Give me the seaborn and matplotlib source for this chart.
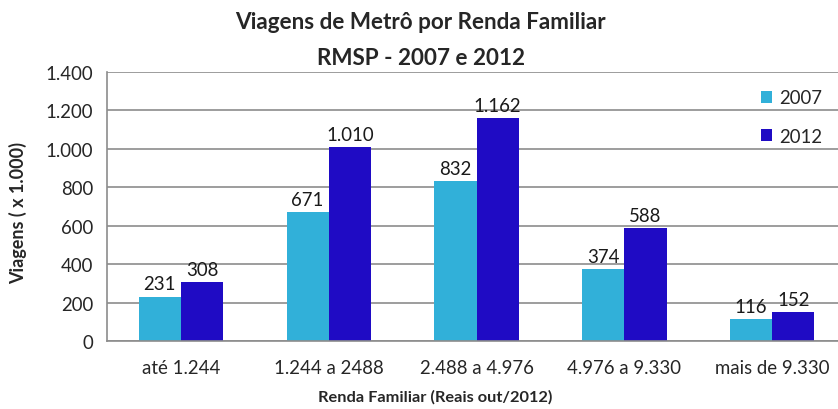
import pandas as pd
import matplotlib
matplotlib.use("Agg")
import matplotlib.pyplot as plt
from matplotlib.ticker import FuncFormatter, MultipleLocator, FixedLocator
import seaborn as sns

faixas = ['até 1.244', '1.244 a 2488', '2.488 a 4.976', '4.976 a 9.330', 'mais de 9.330']
viagens_2007 = [231, 671, 832, 374, 116]
viagens_2012 = [308, 1010, 1162, 588, 152]
anos = ['2007', '2012']
cores = ['#31B0D9', '#1F0BC4']


def milhar(v):
    return f"{int(round(v)):,}".replace(",", ".")


df = pd.DataFrame({
    'faixa': faixas * 2,
    'ano': [anos[0]] * len(faixas) + [anos[1]] * len(faixas),
    'viagens': viagens_2007 + viagens_2012,
})

sns.set_style("white")
plt.rcParams['font.family'] = ['Lato', 'DejaVu Sans']

fig = plt.figure(figsize=(8.38, 4.10), dpi=100)
ax = fig.add_axes([0.1277, 0.1659, 0.882, 0.656])

sns.barplot(data=df, x='faixa', y='viagens', hue='ano', palette=cores,
            width=0.57, saturation=1, linewidth=0, ax=ax, legend=True)

for cont in ax.containers:
    ax.bar_label(cont, labels=[milhar(b.get_height()) for b in cont],
                 padding=3, fontsize=13.4, color='#1a1a1a')

ax.set_ylim(0, 1400)
ax.set_xlim(-0.5, len(faixas) - 0.5)
ax.yaxis.set_major_locator(MultipleLocator(200))
ax.yaxis.set_major_formatter(FuncFormatter(lambda v, p: milhar(v)))
ax.grid(axis='y', color='#8c8c8c', linewidth=1.2)
ax.set_axisbelow(True)

for side in ['top', 'right']:
    ax.spines[side].set_visible(False)
for side in ['left', 'bottom']:
    ax.spines[side].set_color('#8c8c8c')
    ax.spines[side].set_linewidth(1.2)

ax.tick_params(axis='y', length=5, color='#8c8c8c', width=1.2, labelsize=13.4, pad=5)
ax.tick_params(axis='x', length=0, labelsize=13.4, pad=13)
ax.xaxis.set_minor_locator(FixedLocator([i - 0.5 for i in range(len(faixas) + 1)]))
ax.tick_params(axis='x', which='minor', length=6, color='#8c8c8c', width=1.2)

ax.set_xlabel('')
ax.set_ylabel('')
fig.text(0.519, 0.030, 'Renda Familiar (Reais out/2012)', ha='center', va='center',
         fontsize=11.8, fontweight='bold')
fig.text(0.022, 0.48, 'Viagens ( x 1.000)', ha='center', va='center', rotation=90,
         fontsize=13, fontweight='bold')
fig.text(0.502, 0.944, 'Viagens de Metrô por Renda Familiar',
         ha='center', va='center', fontsize=16.2, fontweight='bold')
fig.text(0.502, 0.858, 'RMSP - 2007 e 2012',
         ha='center', va='center', fontsize=16.2, fontweight='bold')

ax.legend(loc='upper left', bbox_to_anchor=(0.908, 0.78), bbox_transform=fig.transFigure,
          frameon=False, fontsize=13.4, handlelength=0.6, handleheight=0.6,
          handletextpad=0.4, labelspacing=1.15, borderaxespad=0, borderpad=0)

fig.savefig('out.png', dpi=100)
